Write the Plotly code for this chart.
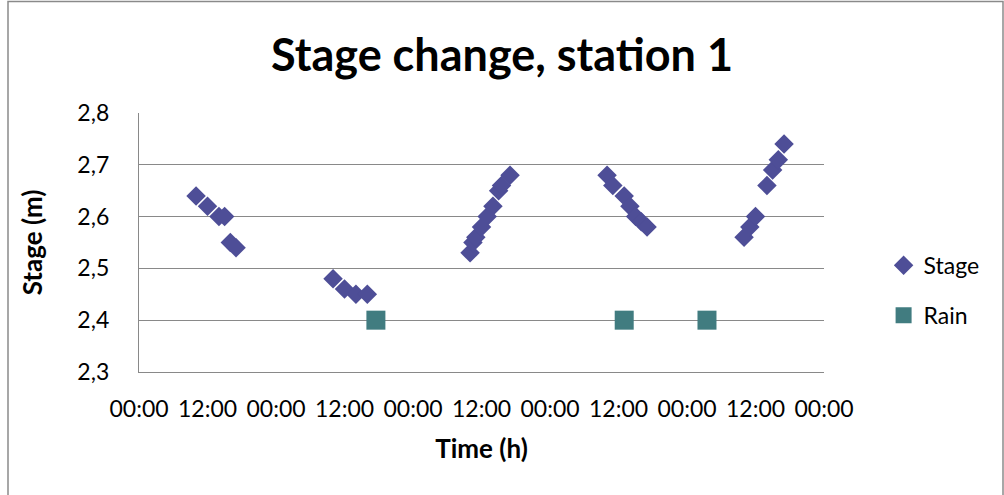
import plotly.graph_objects as go

# Stage readings: hours since the start of the record and water stage (m)
stage_hours = [10, 12, 14, 15, 16, 17,
               34, 36, 38, 40,
               58, 58.5, 59, 60, 61, 62, 63, 63.5, 65,
               82, 83, 85, 86, 87, 88, 89,
               106, 107, 108, 110, 111, 112, 113]
stage_m = [2.64, 2.62, 2.60, 2.60, 2.55, 2.54,
           2.48, 2.46, 2.45, 2.45,
           2.53, 2.55, 2.56, 2.58, 2.60, 2.62, 2.65, 2.66, 2.68,
           2.68, 2.66, 2.64, 2.62, 2.60, 2.59, 2.58,
           2.56, 2.58, 2.60, 2.66, 2.69, 2.71, 2.74]

# Rain events, plotted on a fixed reference level
rain_hours = [41.5, 85, 99.5]
rain_m = [2.40, 2.40, 2.40]

x_tick_hours = [0, 12, 24, 36, 48, 60, 72, 84, 96, 108, 120]
x_tick_labels = ["00:00", "12:00", "00:00", "12:00", "00:00", "12:00",
                 "00:00", "12:00", "00:00", "12:00", "00:00"]
y_ticks = [2.3, 2.4, 2.5, 2.6, 2.7, 2.8]

FONT = "Lato, 'Open Sans', sans-serif"
GRID = "#898989"

fig = go.Figure()
fig.add_trace(go.Scatter(
    x=stage_hours, y=stage_m, mode="markers", name="Stage",
    legendgroup="stage",
    marker=dict(symbol="diamond", size=15, color="#4E4E97", line=dict(width=0)),
))
fig.add_trace(go.Scatter(
    x=rain_hours, y=rain_m, mode="markers", name="Rain",
    legendgroup="rain",
    marker=dict(symbol="square", size=19, color="#417C80", line=dict(width=0)),
))

fig.update_layout(
    width=1004, height=495,
    margin=dict(l=139, r=180, t=113, b=123, autoexpand=False),
    paper_bgcolor="white", plot_bgcolor="white",
    separators=",.",
    font=dict(family=FONT, size=23, color="black"),
    title=dict(text="<b>Stage change, station 1</b>", x=0.5, xanchor="center",
               y=1 - 55 / 495, yanchor="middle", yref="container",
               font=dict(family=FONT, size=45, color="black")),
    showlegend=True,
    legend=dict(x=1.087, xanchor="left", y=0.315, yanchor="middle",
                font=dict(family=FONT, size=23, color="black"),
                tracegroupgap=17, bgcolor="rgba(0,0,0,0)"),
    xaxis=dict(range=[0, 120], tickvals=x_tick_hours, ticktext=x_tick_labels,
               showgrid=False, zeroline=False,
               showline=True, linecolor=GRID, linewidth=1.3,
               ticks="", ticklabelstandoff=16,
               tickfont=dict(family=FONT, size=23, color="black"),
               title=dict(text="<b>Time (h)</b>", standoff=19,
                          font=dict(family=FONT, size=26, color="black")),
               automargin=False),
    yaxis=dict(range=[2.2999, 2.8001], tickvals=y_ticks, tickformat=".1f",
               showgrid=True, gridcolor=GRID, gridwidth=1.3, zeroline=False,
               showline=True, linecolor=GRID, linewidth=1.3,
               ticks="", ticklabelstandoff=24,
               tickfont=dict(family=FONT, size=23, color="black"),
               title=dict(text="<b>Stage (m)</b>", standoff=27,
                          font=dict(family=FONT, size=26, color="black")),
               automargin=False),
    shapes=[dict(type="rect", xref="paper", yref="paper",
                 x0=(8 - 139) / 685, x1=(1003 - 139) / 685,
                 y0=1 - (500 - 113) / 259, y1=1 + (113 - 1.5) / 259,
                 line=dict(color="#8a8a8a", width=1.5), layer="below")],
)

fig.write_html("out.html")
